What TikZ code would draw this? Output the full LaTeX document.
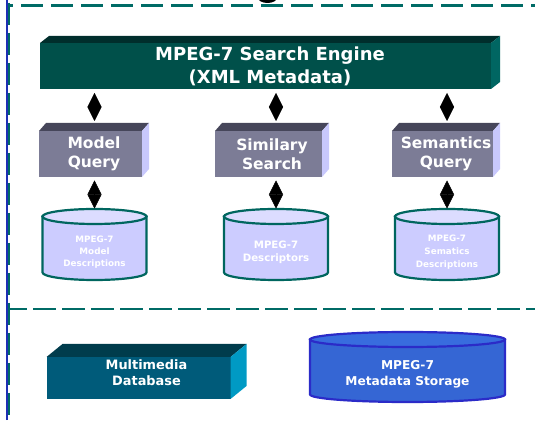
\documentclass[tikz,border=0pt]{standalone}
\usepackage{fontspec}
\setmainfont{DejaVu Sans}
\usetikzlibrary{arrows.meta,backgrounds,calc}
\definecolor{tealline}{HTML}{006B66}
\definecolor{blueline}{HTML}{1F2FB5}
\definecolor{engF}{HTML}{00504A}
\definecolor{engT}{HTML}{002E2C}
\definecolor{engS}{HTML}{006662}
\definecolor{qF}{HTML}{7C7C96}
\definecolor{qT}{HTML}{46465A}
\definecolor{qS}{HTML}{C8C8FC}
\definecolor{cylBody}{HTML}{CCCCFF}
\definecolor{cylTop}{HTML}{DCDCFF}
\definecolor{cylStroke}{HTML}{00665F}
\definecolor{mmF}{HTML}{005B7A}
\definecolor{mmT}{HTML}{003C4C}
\definecolor{mmS}{HTML}{009AC4}
\definecolor{stBody}{HTML}{3566D4}
\definecolor{stTop}{HTML}{386CDE}
\definecolor{stStroke}{HTML}{2B2BC8}
% 3D box faces: #1 node, #2 dx, #3 dy, #4 front, #5 top, #6 side
\newcommand\boxfaces[6]{%
  \begin{scope}[on background layer]
    \fill[#4] (#1.south west) rectangle ($(#1.north east)+(-#2,0)$);
    \fill[#5] (#1.north west) -- ($(#1.north west)+(#2,#3)$) -- ($(#1.north east)+(0,#3)$) -- ($(#1.north east)+(-#2,0)$) -- cycle;
    \fill[#6] ($(#1.north east)+(-#2,0)$) -- ($(#1.north east)+(0,#3)$) -- ($(#1.south east)+(0,#3)$) -- ($(#1.south east)+(-#2,0)$) -- cycle;
  \end{scope}}
% cylinder: #1 node, #2 rx, #3 ry, #4 body, #5 top, #6 stroke
\newcommand\mycyl[6]{%
  \begin{scope}[on background layer]
    \filldraw[fill=#4, draw=#6, line width=2.2pt] ($(#1.north west)+(0,#3)$) -- ($(#1.south west)+(0,#3)$)
      arc[start angle=180, end angle=360, x radius=#2, y radius=#3] -- ($(#1.north east)+(0,#3)$) -- cycle;
    \filldraw[fill=#5, draw=#6, line width=2.2pt] ($(#1.north)+(0,#3)$) ellipse[x radius=#2, y radius=#3];
  \end{scope}}
\begin{document}
\begin{tikzpicture}[x=1pt, y=1pt,
  every node/.style={inner sep=0pt, outer sep=0pt, text=white, align=center},
  dline/.style={draw=tealline, line width=2.8pt, dash pattern=on 22pt off 8pt},
  dline2/.style={draw=tealline, line width=2.8pt, dash pattern=on 23pt off 6pt, dash phase=4pt},
  qbox/.style={minimum height=46pt, font=\bfseries\fontsize{15.5}{19}\selectfont},
  cylbox/.style={minimum height=56pt, minimum width=104pt},
  dia/.style={{Triangle[length=14pt,width=14pt]}-{Triangle[length=14pt,width=14pt]}, line width=0.4pt, black}]
\useasboundingbox (0,0) rectangle (535,420);
\clip (0,0) rectangle (535,420);

% frame lines
\draw[blueline, line width=2pt] (7,0) -- (7,420);
\draw[dline] (9,417) -- (9,0);
\draw[dline, dash phase=17pt] (8,414.5) -- (535,414.5);
\draw[dline2] (8,111) -- (535,111);
\fill[black] (267.5,423) ellipse[x radius=10, y radius=6];

% search engine
\node[minimum width=460pt, minimum height=46pt, font=\bfseries\fontsize{18}{23}\selectfont] (e) at (270,354) {MPEG-7 Search Engine\\(XML Metadata)};
\boxfaces{e}{9}{7}{engF}{engT}{engS}

% query boxes
\node[qbox, minimum width=110pt] (q1) at (94,266) {Model\\Query};
\node[qbox, minimum width=114pt] (q2) at (272,266) {Similary\\Search};
\node[qbox, minimum width=108pt] (q3) at (446,266) {Semantics\\Query};
\boxfaces{q1}{7}{8}{qF}{qT}{qS}
\boxfaces{q2}{7}{8}{qF}{qT}{qS}
\boxfaces{q3}{7}{8}{qF}{qT}{qS}

% description cylinders
\node[cylbox, font=\bfseries\fontsize{8.8}{12}\selectfont] (c1) at (94.5,168) {MPEG-7\\Model\\Descriptions};
\node[cylbox, font=\bfseries\fontsize{10.2}{13}\selectfont] (c2) at (276,168) {MPEG-7\\Descriptors};
\node[cylbox, font=\bfseries\fontsize{8.8}{13}\selectfont] (c3) at (447,168) {MPEG-7\\Sematics\\Descriptions};
\mycyl{c1}{52}{7.5}{cylBody}{cylTop}{cylStroke}
\mycyl{c2}{52}{7.5}{cylBody}{cylTop}{cylStroke}
\mycyl{c3}{52}{7.5}{cylBody}{cylTop}{cylStroke}

% connectors
\draw[dia, shorten <=4pt, shorten >=10pt] (e.south -| c1.north) -- (q1.north -| c1.north);
\draw[dia, shorten <=4pt, shorten >=10pt] (e.south -| c2.north) -- (q2.north -| c2.north);
\draw[dia, shorten <=4pt, shorten >=10pt] (e.south -| c3.north) -- (q3.north -| c3.north);
\draw[dia, shorten <=3.5pt, shorten >=15.5pt] (q1.south -| c1.north) -- (c1.north);
\draw[dia, shorten <=3.5pt, shorten >=15.5pt] (q2.south -| c2.north) -- (c2.north);
\draw[dia, shorten <=3.5pt, shorten >=15.5pt] (q3.south -| c3.north) -- (c3.north);

% lower part
\node[minimum width=200pt, minimum height=42pt] (mm) at (146.5,42) {};
\boxfaces{mm}{16}{13}{mmF}{mmT}{mmS}
\node[font=\bfseries\fontsize{12.9}{16}\selectfont] (mmt) at ($(mm.center)+(0,5)$) {Multimedia\\Database};

\node[minimum width=195pt, minimum height=55pt, font=\bfseries\fontsize{12.2}{16}\selectfont] (st) at (407.5,45.5) {MPEG-7\\Metadata Storage};
\mycyl{st}{97.5}{7.5}{stBody}{stTop}{stStroke}
\end{tikzpicture}
\end{document}
